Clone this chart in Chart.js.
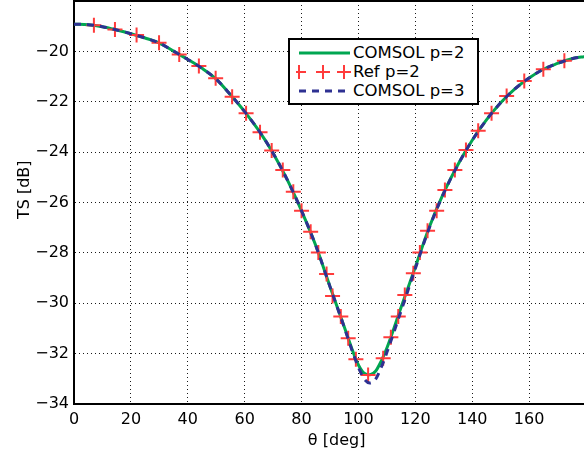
<!DOCTYPE html>
<html>
<head>
<meta charset="utf-8">
<script src="https://cdn.jsdelivr.net/npm/chart.js@4.4.1/dist/chart.umd.min.js"></script>
<style>
  body { margin: 0; background: #fff; overflow: hidden; }
  #wrap { position: relative; width: 584px; height: 454px; }
  #legend {
    position: absolute; left: 288px; top: 38px; width: 187px; height: 63px;
    border: 2px solid #000; background: #fff;
    font-family: "DejaVu Sans", sans-serif; font-size: 16.5px; color: #000;
  }
  #legend .row { position: absolute; left: 0; height: 19px; line-height: 19px; white-space: nowrap; }
  #legend svg { position: absolute; left: 6px; top: 0; }
  #legend span { position: absolute; left: 63px; top: 0; }
</style>
</head>
<body>
<div id="wrap">
  <canvas id="tsChart" width="584" height="454"></canvas>
  <div id="legend"></div>
</div>
<script>
// angle grid for the COMSOL curves (deg)
const theta = [0, 5, 10, 15, 20, 25, 30, 35, 40, 45, 50, 55, 60, 65, 70, 75, 80, 85, 90, 95,
  98, 100, 102, 104, 106, 108, 110, 115, 120, 125, 130, 135, 140, 145, 150, 155, 160, 165, 170, 175, 180];

// COMSOL p=2 (dB)
const comsolP2 = [-18.92, -18.94, -19.02, -19.15, -19.30, -19.47, -19.67, -19.99, -20.32, -20.67,
  -21.10, -21.72, -22.39, -23.15, -24.04, -25.10, -26.33, -27.71, -29.34, -30.93,
  -31.90, -32.45, -32.78, -32.84, -32.70, -32.30, -31.78, -30.16, -28.56, -26.95,
  -25.61, -24.49, -23.53, -22.72, -22.04, -21.49, -21.06, -20.71, -20.48, -20.29, -20.20];

// COMSOL p=3 (dB)
const comsolP3 = [-18.92, -18.94, -19.02, -19.15, -19.30, -19.47, -19.67, -19.99, -20.32, -20.67,
  -21.10, -21.72, -22.39, -23.15, -24.04, -25.10, -26.33, -27.71, -29.34, -30.95,
  -31.95, -32.55, -33.00, -33.17, -33.02, -32.55, -31.95, -30.30, -28.62, -26.98,
  -25.63, -24.50, -23.53, -22.72, -22.04, -21.49, -21.06, -20.71, -20.48, -20.29, -20.20];

// Ref p=2 points
const refTheta = [7.0, 14.4, 22.0, 29.9, 37.0, 43.9, 49.8, 55.6, 60.5, 65.4, 69.5, 73.4, 77.1,
  80.0, 83.2, 85.9, 88.8, 90.9, 93.8, 96.4, 99.1, 103.4, 108.7, 111.4, 114.0, 116.3, 119.3,
  121.6, 124.3, 127.5, 130.4, 133.9, 137.8, 142.1, 146.8, 152.1, 158.3, 165.0, 172.4];
const refP2 = [-18.96, -19.13, -19.35, -19.66, -20.12, -20.58, -21.07, -21.80, -22.46, -23.21, -23.94, -24.71, -25.57,
  -26.33, -27.16, -27.99, -28.84, -29.71, -30.53, -31.39, -32.22, -32.85, -32.18, -31.35, -30.53, -29.67, -28.81,
  -27.99, -27.12, -26.33, -25.50, -24.71, -23.92, -23.15, -22.46, -21.77, -21.18, -20.71, -20.37];

const xTicks = [0, 20, 40, 60, 80, 100, 120, 140, 160];
const yTicks = [-34, -32, -30, -28, -26, -24, -22, -20];

const green = "#00a651";
const red = "#ff3b3b";
const blue = "#2e3192";

function pts(xs, ys) {
    return xs.map((x, i) => ({ x: x, y: ys[i] }));
}

// cadre du haut
const topBorder = {
    id: "topBorder",
    afterDraw(chart) {
        const ctx = chart.ctx;
        const a = chart.chartArea;
        ctx.save();
        ctx.strokeStyle = "#000";
        ctx.lineWidth = 2;
        ctx.beginPath();
        ctx.moveTo(a.left, a.top);
        ctx.lineTo(a.right, a.top);
        ctx.stroke();
        ctx.restore();
    }
};

const font = { family: "DejaVu Sans", size: 16 };

const chart = new Chart(document.getElementById("tsChart"), {
    type: "line",
    data: {
        datasets: [
            {
                label: "COMSOL p=2",
                data: pts(theta, comsolP2),
                borderColor: green,
                borderWidth: 3,
                pointRadius: 0,
                cubicInterpolationMode: "monotone",
                order: 3
            },
            {
                label: "Ref p=2",
                data: pts(refTheta, refP2),
                showLine: false,
                pointStyle: "cross",
                pointRadius: 7.5,
                borderColor: red,
                backgroundColor: red,
                pointBorderWidth: 2,
                order: 2
            },
            {
                label: "COMSOL p=3",
                data: pts(theta, comsolP3),
                borderColor: blue,
                borderWidth: 3,
                borderDash: [7, 6],
                pointRadius: 0,
                cubicInterpolationMode: "monotone",
                order: 1
            }
        ]
    },
    options: {
        responsive: false,
        animation: false,
        layout: { padding: { top: 1, left: 0, right: 0, bottom: 0 }, autoPadding: false },
        plugins: { legend: { display: false }, tooltip: { enabled: false } },
        scales: {
            x: {
                type: "linear",
                min: 0,
                max: 179.3,
                afterFit(s) { s.height = 50; s.paddingLeft = 0; s.paddingRight = 0; },
                afterBuildTicks(s) { s.ticks = xTicks.map(v => ({ value: v })); },
                ticks: { font: font, color: "#000", padding: 6, maxRotation: 0, includeBounds: false },
                grid: { color: "#1a1a1a", drawTicks: false },
                border: { color: "#000", width: 2, dash: [1, 3], display: true },
                title: { display: true, text: "\u00a0\u00a0\u00a0θ [deg]", font: font, color: "#000", padding: { top: 0, bottom: 4 } }
            },
            y: {
                min: -34,
                max: -18,
                afterFit(s) { s.width = 74; s.paddingTop = 0; s.paddingBottom = 0; },
                afterBuildTicks(s) { s.ticks = yTicks.map(v => ({ value: v })); },
                ticks: {
                    font: font, color: "#000", padding: 5,
                    callback: v => String(v).replace("-", "\u2212")
                },
                grid: { color: "#1a1a1a", drawTicks: false },
                border: { color: "#000", width: 2, dash: [1, 3], display: true },
                title: { display: true, text: "\u00a0\u00a0\u00a0\u00a0\u00a0TS [dB]", font: font, color: "#000", padding: { top: 15, bottom: 0 } }
            }
        }
    },
    plugins: [topBorder]
});

// légende HTML
const legend = document.getElementById("legend");
const rowsTop = [3, 22, 41];
chart.data.datasets.forEach(function (ds, i) {
    let sample = "";
    if (ds.pointStyle === "cross") {
        [3, 27, 48].forEach(function (cx) {
            sample += '<line x1="' + (cx - 7) + '" y1="10" x2="' + (cx + 7) + '" y2="10" stroke="' + ds.borderColor + '" stroke-width="2"/>' +
                      '<line x1="' + cx + '" y1="3" x2="' + cx + '" y2="17" stroke="' + ds.borderColor + '" stroke-width="2"/>';
        });
    } else {
        const dash = ds.borderDash ? ' stroke-dasharray="' + ds.borderDash.join(",") + '"' : "";
        sample = '<line x1="3" y1="10" x2="54" y2="10" stroke="' + ds.borderColor + '" stroke-width="3"' + dash + '/>';
    }
    const row = document.createElement("div");
    row.className = "row";
    row.style.top = rowsTop[i] + "px";
    row.innerHTML = '<svg width="58" height="20">' + sample + '</svg><span>' + ds.label + '</span>';
    legend.appendChild(row);
});
</script>
</body>
</html>
